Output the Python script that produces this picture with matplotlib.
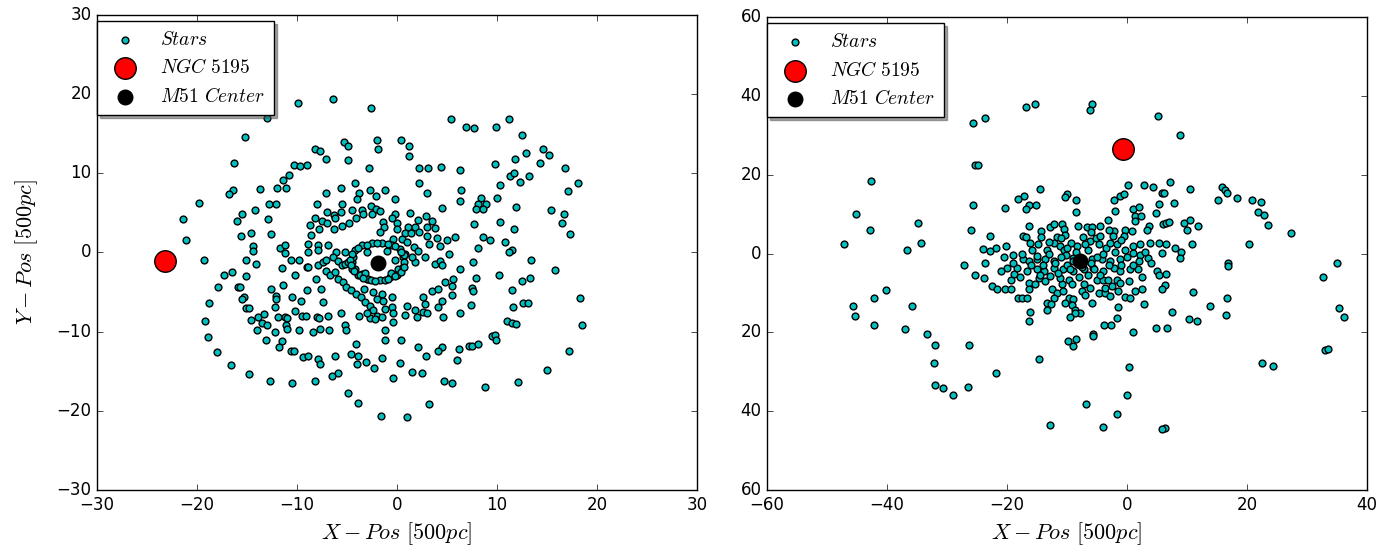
import numpy as np
import matplotlib
matplotlib.use("Agg")
import matplotlib.pyplot as plt
from matplotlib.ticker import FuncFormatter

# star positions [500 pc]
left_stars = np.array([
    # outer left
    (-19.3, -0.9), (-15.1, -0.9), (-14.1, -1.4), (-17.3, -2.8), (-16.5, -2.5), (-15.1, -3.0),
    (-17.9, -4.4), (-15.9, -4.3), (-15.7, -4.4), (-12.6, -4.6), (-11.4, -4.1), (-11.5, -2.0),
    (-10.6, -0.9), (-9.8, -0.9), (-10.2, -2.8), (-18.8, -6.4), (-15.3, -5.6), (-15.5, -5.9),
    (-12.1, -5.5), (-12.1, -5.9), (-10.5, -5.6), (-9.6, -6.1), (-12.2, -6.9), (-15.1, -7.0),
    (-14.8, -7.0), (-19.2, -8.6), (-14.6, -8.5), (-13.9, -8.1), (-13.3, -7.8), (-13.5, -8.9),
    (-13.0, -9.1), (-11.9, -8.1), (-11.2, -8.2), (-11.0, -8.3), (-11.1, -9.1), (-11.0, -9.7),
    (-10.2, -7.4), (-9.5, -8.0), (-14.0, -9.8), (-12.2, -10.1), (-9.8, -9.8), (-18.9, -10.7),
    (-13.1, -11.0), (-11.5, -11.2), (-11.8, -11.9), (-10.6, -12.4), (-10.3, -12.5), (-9.4, -13.2),
    (-18.0, -12.6), (-16.6, -14.2), (-14.8, -15.4), (-12.7, -16.2), (-10.5, -16.5),
    (-9.9, 18.9), (-13.0, 17.0), (-15.2, 14.6), (-16.3, 11.3), (-10.3, 11.1), (-9.7, 10.9),
    (-10.8, 9.8), (-11.4, 9.2), (-12.0, 8.2), (-11.1, 8.2), (-13.7, 8.0), (-16.4, 7.9),
    (-16.8, 7.4), (-19.8, 6.3), (-12.8, 6.1), (-12.1, 6.1), (-15.5, 4.9), (-16.0, 4.0),
    (-14.2, 5.3), (-12.9, 4.2), (-21.4, 4.2), (-21.1, 1.6), (-15.6, 2.1), (-14.6, 2.4),
    (-12.6, 2.3), (-14.4, 0.8), (-14.4, 0.2), (-11.7, 0.5), (-11.2, 1.0), (-11.2, -0.1),
    # upper middle
    (-6.4, 19.4), (-2.6, 18.2), (5.4, 16.8), (-8.2, 13.1), (-7.7, 12.8), (-7.1, 11.8),
    (-9.0, 11.1), (-5.3, 13.9), (-4.9, 13.5), (-4.9, 11.7), (-2.0, 14.2), (-1.9, 13.0),
    (0.4, 14.2), (1.2, 13.5), (1.2, 12.2), (-2.8, 10.6), (2.2, 10.6), (3.1, 10.6),
    (4.4, 10.8), (6.3, 10.4), (2.2, 8.8), (3.0, 7.5), (6.4, 7.9), (6.3, 6.5), (4.5, 5.6),
    (-4.2, 8.8), (-5.6, 8.2), (-7.1, 7.5), (-3.8, 7.5), (-4.0, 6.8), (-2.7, 7.9),
    (-2.1, 7.1), (-1.2, 7.9), (-0.2, 6.7), (-8.0, 6.1), (-5.5, 6.1), (-7.0, 5.1),
    (-6.3, 4.7), (-5.6, 5.1), (-4.5, 5.4), (-3.5, 5.4), (-2.6, 5.9), (-2.1, 5.5),
    (-1.7, 5.2), (-3.4, 4.8), (-2.5, 4.8), (-0.2, 4.9), (1.3, 5.0), (2.9, 4.6),
    (-8.2, 4.3), (-7.5, 4.0), (-7.0, 3.7), (-6.2, 4.3), (-5.5, 3.4), (-4.8, 3.7),
    (-4.1, 4.3), (-8.7, 3.5), (-7.8, 3.0), (-8.6, 2.2), (-6.3, 3.0), (-1.4, 3.9),
    (0.0, 3.7), (-0.5, 4.3), (-1.3, 3.2), (-1.7, 2.6), (0.0, 2.9), (1.1, 3.2),
    (1.8, 3.2), (2.1, 4.1), (3.5, 4.0), (3.8, 3.1), (3.0, 3.2), (0.8, 2.4),
    (1.4, 2.4), (2.2, 2.6), (-0.4, 1.7), (0.5, 1.7), (1.0, 1.3), (3.0, 2.1),
    (4.0, 1.8), (5.0, 1.6), (5.8, 1.9), (3.2, 1.1), (4.3, 0.8), (-7.9, 1.0),
    (-6.9, 0.9), (-7.9, 0.3), (-6.1, 0.0), (-5.2, 0.0), (-8.9, 1.1), (-8.9, 0.1),
    (1.7, 0.7), (2.1, 0.2), (5.2, -0.2),
    # upper right
    (11.2, 16.8), (9.9, 15.9), (6.9, 15.8), (7.7, 15.7), (12.5, 14.8), (14.6, 13.1),
    (15.2, 12.3), (12.9, 12.5), (11.8, 11.8), (14.3, 11.3), (9.8, 11.2), (16.8, 10.7),
    (11.3, 9.6), (11.7, 10.0), (13.2, 9.7), (12.3, 8.9), (18.1, 8.8), (17.1, 7.7),
    (10.3, 8.5), (10.0, 6.9), (8.4, 6.9), (8.1, 6.1), (8.9, 6.1), (7.9, 5.5),
    (8.6, 5.5), (11.9, 5.8), (15.4, 5.3), (16.7, 4.9), (16.5, 3.7), (17.3, 2.3),
    (7.7, 3.6), (10.3, 3.9), (11.7, 2.9), (8.6, 1.9), (9.3, 1.6), (10.8, 1.3),
    (11.5, 0.3), (11.2, 0.0), (8.1, 0.5),
    # lower right
    (13.4, -0.9), (7.6, -1.2), (15.8, -2.2), (10.2, -2.9), (7.9, -3.2), (12.5, -3.6),
    (13.3, -3.2), (7.5, -4.5), (7.6, -4.9), (11.5, -4.8), (18.3, -5.7), (7.4, -6.6),
    (11.6, -6.9), (12.6, -6.4), (13.1, -6.4), (11.0, -8.7), (11.5, -8.9), (11.9, -9.0),
    (18.5, -9.2), (9.5, -10.5), (9.8, -10.4), (9.9, -11.0), (7.2, -11.8), (7.5, -11.8),
    (8.1, -11.5), (17.2, -12.4), (15.0, -14.8), (12.1, -16.4), (8.8, -17.0),
    # lower middle
    (-9.0, -1.9), (-8.1, -3.4), (-7.6, -4.6), (-9.0, -4.8), (-7.4, -6.2), (-9.1, -8.0),
    (-8.0, -8.1), (-7.8, -8.3), (-6.9, -8.0), (-5.6, -7.7), (-3.8, -8.0), (-8.4, -10.1),
    (-7.7, -9.7), (-6.8, -9.8), (-5.2, -9.1), (-5.1, -9.8), (-4.1, -11.5), (-1.2, -9.8),
    (-1.2, -11.1), (0.4, -11.1), (2.1, -12.0), (4.5, -12.0), (4.1, -12.4), (6.2, -12.2),
    (2.9, -13.1), (6.0, -13.6), (-8.9, -13.1), (-7.9, -13.5), (-7.7, -14.1), (-6.2, -13.1),
    (-4.6, -12.8), (-3.9, -13.1), (-4.0, -14.1), (-3.1, -13.8), (-1.5, -13.3), (-2.3, -14.6),
    (0.3, -14.0), (1.5, -15.1), (2.5, -15.2), (-5.9, -15.2), (-6.5, -15.6), (-8.2, -16.2),
    (-0.4, -15.9), (4.7, -16.2), (5.5, -16.5), (-4.9, -17.8), (-3.9, -19.0), (3.2, -19.1),
    (-1.6, -20.6), (1.0, -20.8),
    # spiral arms near the centre
    (-8.9, -1.85), (-7.9, -1.56), (-7.4, -1.2), (-7.05, -0.9), (-6.4, -0.6), (-5.9, -1.1),
    (-5.5, -1.6), (-7.05, -2.3), (-6.7, -2.9), (-6.2, -2.5), (-5.9, -3.3), (-5.4, -3.75),
    (-5.05, -4.4), (-4.55, -4.8), (-4.05, -5.2), (-3.55, -5.6), (-3.2, -6.3), (-2.7, -6.7),
    (-2.4, -7.3), (-2.0, -8.0), (-2.7, -8.3), (-3.0, -7.7), (-5.2, -1.4), (-4.5, -1.2),
    (-4.2, -2.1), (-3.5, -2.7), (-3.0, -3.3), (-3.3, -4.6), (-2.4, -5.0), (-2.0, -5.85),
    (-1.5, -5.2), (-1.4, -6.1), (-0.5, -5.6), (-0.5, -6.9), (-0.4, -7.7), (-0.4, -8.8),
    (-1.2, -7.1), (-1.5, -8.2), (-2.2, -8.4), (0.8, -7.95), (1.0, -6.8), (1.8, -7.3),
    (2.0, -8.2), (2.6, -7.5), (2.8, -6.5), (3.0, -7.7), (2.6, -5.6), (3.5, -4.9),
    (4.1, -4.6), (4.5, -6.1), (4.1, -6.9), (4.6, -8.2), (5.5, -5.4), (4.8, -3.75),
    (5.5, -4.2), (5.65, -3.3), (6.3, -2.1), (6.3, -7.7), (3.8, -1.4), (4.3, -1.1),
    (4.5, -1.6), (2.8, -0.6), (1.8, -1.2), (1.5, -0.6),
    # tight ring round the centre
    (-0.2, -1.0), (0.1, -2.1), (-0.7, -3.1), (-1.7, -3.5), (-2.9, -3.4), (-3.9, -2.9),
    (-4.5, -2.1), (-4.9, -1.2), (-4.2, 0.26), (-3.5, 0.89), (-2.5, 1.2), (-1.5, 1.2),
    (-0.5, 0.97), (0.3, 0.47), (0.8, -0.16), (0.6, -0.6), (-4.4, -0.6), (-3.7, -2.9),
    (-2.6, -3.5), (-1.2, -3.5), (0.0, -2.9), (0.6, -1.8), (-1.0, 0.2), (-3.0, 0.1),
    (-3.2, -2.6), (-0.6, -2.6),
    (0.75, -1.2), (0.7, -0.3), (0.4, 0.1), (-0.2, 0.8), (-0.9, 1.1), (-2.0, 1.25),
    (-3.0, 1.0), (-3.9, 0.5), (-4.5, -0.2), (-4.7, -0.9), (-4.6, -1.6), (-4.3, -2.4),
    (-3.4, -3.2), (-2.2, -3.6), (-0.9, -3.4), (-0.2, -3.0), (0.4, -2.5), (0.7, -1.9),
])

right_stars = np.array([
    (-25.6, 33.0), (-25.3, 22.4), (-25.7, 12.4), (-26.0, 6.1), (-42.6, 18.5), (-45.2, 10.1),
    (-42.9, 6.1), (-47.2, 2.5), (-34.8, 7.8), (-34.4, 2.6), (-36.6, 0.85),
    (-27.2, -3.0), (-25.4, -5.5), (-40.2, -9.2), (-42.2, -11.2), (-45.7, -13.2), (-45.3, -15.8),
    (-35.9, -13.2), (-42.1, -18.2), (-37.0, -19.2), (-33.3, -20.5), (-32.0, -23.3), (-26.3, -23.3),
    (-32.2, -27.8), (-32.0, -33.3), (-30.7, -34.1), (-29.0, -35.9), (-26.5, -33.8),
    (-16.9, 37.3), (-15.4, 38.0), (-23.7, 34.5), (-5.8, 38.0), (-6.1, 36.5), (5.2, 35.0),
    (-24.9, 22.5), (-14.5, 16.4), (-10.0, 15.2), (-10.3, 14.3), (-8.4, 13.5), (-17.2, 14.5),
    (-18.1, 13.9), (-16.3, 12.4), (-16.8, 11.4), (-15.1, 12.2), (-20.4, 11.6), (-8.5, 10.6),
    (0.2, 17.3), (2.8, 17.3), (4.4, 17.0), (5.9, 15.3), (-2.2, 13.7), (-1.2, 14.7),
    (-0.4, 15.2), (5.4, 12.6), (-2.0, 10.9), (1.1, 11.4), (2.1, 11.8), (1.4, 9.4),
    (2.3, 9.6), (4.9, 10.3), (-3.1, 8.6), (1.3, 8.2), (3.7, 7.1), (3.4, 6.1),
    (6.1, 7.6), (-16.3, 6.9), (-12.9, 6.7), (-12.2, 7.6), (-10.8, 7.5), (-10.4, 6.2),
    (-8.1, 7.1), (-6.7, 6.7), (-5.8, 6.7), (-4.5, 7.1), (-22.9, 4.4), (-17.4, 4.4),
    (-16.9, 4.1), (-14.4, 5.6), (-14.3, 4.1), (-11.7, 4.1), (-10.3, 4.8), (-2.2, 5.6),
    (-2.3, 4.4), (-0.3, 6.1), (0.8, 5.8), (-0.4, 4.4), (-24.0, 1.1), (-22.8, 0.6),
    (-21.8, 1.3), (-20.2, 2.0), (-19.0, -0.3), (-16.2, 2.7), (-15.8, 1.0), (-14.9, 2.5),
    (-13.4, 0.8), (-12.2, 2.7), (-11.1, 1.8), (-10.4, 0.8), (-9.3, 2.7), (-8.3, 1.8),
    (-7.3, 4.1), (-6.1, 3.1), (-5.2, 3.9), (-4.6, 2.4), (-3.4, 1.4), (-2.8, 2.7),
    (-1.7, 2.3), (-0.3, 1.0), (1.1, 1.8), (2.2, 2.3), (3.9, 2.7), (5.3, 2.7),
    (5.8, 0.2), (3.6, -1.1), (2.2, -0.3), (1.1, 0.2), (-17.4, -1.5), (-16.4, -1.9),
    (-15.0, -1.5), (-13.6, -1.5), (-12.2, -1.9), (-23.6, -2.4), (-5.8, -1.5), (-4.2, -1.5),
    (-2.8, -1.9), (-1.1, -1.5), (-10.1, -0.3), (-8.9, -1.1),
    (8.9, 30.2), (7.2, 18.1), (6.2, 15.4), (7.8, 12.8), (10.6, 16.4), (15.8, 17.0),
    (16.4, 16.2), (16.7, 15.4), (15.2, 13.7), (18.3, 14.1), (20.8, 13.7), (22.4, 13.1),
    (21.8, 10.5), (22.9, 9.9), (23.6, 7.3), (27.4, 5.1), (6.6, 7.8), (7.1, 8.1),
    (9.6, 7.8), (10.6, 8.6), (10.1, 6.1), (11.9, 6.9), (6.6, 2.4), (8.0, 1.3),
    (9.1, 0.3), (8.8, -1.2), (10.9, 2.4), (20.3, 2.4), (16.9, -2.5), (35.1, -2.5),
    (16.8, -3.2), (32.7, -6.0), (6.6, -5.1), (6.4, -8.1), (11.1, -9.7), (16.7, -11.2),
    (13.9, -13.2), (7.6, -14.8), (10.3, -16.7), (11.7, -17.0), (16.5, -15.7), (6.7, -19.0),
    (35.3, -13.8), (36.2, -16.0), (33.0, -24.5), (33.5, -24.3), (22.6, -27.8), (24.4, -28.5),
    (6.3, -44.3),
    (-23.9, -6.3), (-22.5, -8.3), (-21.6, -9.1), (-20.3, -8.9), (-19.3, -8.9), (-19.4, -6.8),
    (-18.9, -5.3), (-17.8, -6.0), (-16.4, -7.4), (-16.4, -9.1), (-18.1, -11.2), (-17.5, -11.4),
    (-16.7, -11.2), (-16.1, -14.8), (-16.3, -17.0), (-15.3, -7.8), (-14.7, -6.2), (-13.6, -7.0),
    (-12.8, -5.7), (-12.5, -9.1), (-11.7, -10.0), (-12.1, -11.2), (-13.3, -12.5), (-12.7, -12.9),
    (-13.3, -14.2), (-10.8, -7.8), (-10.6, -9.4), (-11.1, -6.2), (-9.7, -6.6), (-9.2, -7.8),
    (-9.7, -11.2), (-10.3, -12.5), (-8.9, -11.6), (-9.1, -13.1), (-8.6, -14.2), (-7.8, -15.0),
    (-8.6, -15.2), (-9.4, -16.1), (-7.2, -7.8), (-7.5, -9.5), (-6.9, -10.4), (-6.1, -8.7),
    (-5.8, -12.5), (-5.0, -6.6), (-3.9, -6.6), (-3.1, -6.6), (-4.7, -10.0), (-3.6, -10.0),
    (-2.8, -10.8), (-3.6, -8.7), (-2.5, -8.3), (-1.7, -6.6), (-1.1, -7.4), (-1.4, -9.5),
    (-0.3, -11.0), (0.6, -11.2), (0.3, -7.0), (1.4, -9.4), (2.5, -8.9), (2.5, -6.0),
    (-1.4, -13.5), (-1.7, -16.3), (-3.8, -18.0), (-2.7, -18.2), (-5.6, -20.3), (-5.7, -21.0),
    (-9.8, -22.2), (-8.5, -21.7), (-9.0, -23.5), (2.9, -12.9), (1.1, -20.0), (4.8, -19.0),
    (5.8, -9.1), (5.0, -4.5), (5.3, -5.5), (-14.7, -26.8), (-21.8, -30.3), (0.3, -28.8),
    (0.0, -35.8), (-6.8, -38.1), (-1.6, -40.6), (-12.9, -43.5), (-3.9, -43.9), (5.9, -44.4),
    (-20.0, -3.6), (-18.3, -3.6), (-16.7, -4.5), (-15.0, -4.0), (-13.9, -4.5), (-12.2, -3.6),
    (-10.6, -4.0), (-8.9, -4.5), (-7.2, -4.0), (-5.6, -3.6), (-3.9, -4.5), (-2.2, -3.6),
    (-1.1, -4.5), (0.6, -4.0), (1.9, -4.0),
    # crowded core
    (-9.0, -2.0), (-8.0, -1.0), (-6.0, -2.5), (-5.0, -1.0), (-10.0, -3.0), (-11.0, -1.0),
    (-12.0, -2.5), (-13.0, 0.0), (-14.0, -3.0), (-8.5, 0.5), (-6.5, 0.8), (-4.0, 0.0),
    (-3.0, -3.0), (-2.0, 0.5), (-1.0, -2.8), (0.0, -1.0), (1.0, -3.0), (2.0, -2.0),
    (3.0, 0.5), (4.0, -2.5), (-9.5, -4.0), (-7.5, -3.5), (-5.5, -4.0), (-15.0, -0.5),
    (-16.0, -3.0), (-17.5, 0.0), (-19.0, -2.5), (-20.5, -1.0), (-21.0, -4.5), (-10.0, 1.5),
    (-7.0, 2.5), (-4.5, 4.5), (-11.0, 4.0), (-13.0, 3.0), (-6.0, 5.5), (-3.0, 6.0),
    (-1.0, 3.5), (-6.5, -5.5), (-4.5, -5.5), (-8.0, -6.0), (-11.5, -5.0), (-14.5, -5.5),
])

ngc_left = (-23.2, -1.1)
center_left = (-1.9, -1.3)
ngc_right = (-0.6, 26.6)
center_right = (-7.8, -1.9)

plt.style.use("classic")
plt.rcParams["mathtext.fontset"] = "cm"
plt.rcParams["font.family"] = ["DejaVu Sans"]

fig = plt.figure(figsize=(13.95, 5.5), dpi=100, facecolor="white")
ax1 = fig.add_axes([0.0695, 0.109, 0.430, 0.864])
ax2 = fig.add_axes([0.5498, 0.109, 0.430, 0.860])

panels = [
    (ax1, left_stars, ngc_left, center_left, (-30, 30), (-30, 30), 10, 10),
    (ax2, right_stars, ngc_right, center_right, (-60, 40), (-60, 60), 20, 20),
]

for ax, stars, ngc, cen, xlim, ylim, xstep, ystep in panels:
    ax.scatter(stars[:, 0], stars[:, 1], s=24, c="c", edgecolors="k", linewidths=1,
               label=r"$Stars$", zorder=2)
    ax.scatter([ngc[0]], [ngc[1]], s=240, c="r", edgecolors="k", linewidths=1,
               label=r"$NGC\ 5195$", zorder=3)
    ax.scatter([cen[0]], [cen[1]], s=110, c="k", edgecolors="k", linewidths=1,
               label=r"$M51\ Center$", zorder=3)
    ax.set_xlim(*xlim)
    ax.set_ylim(*ylim)
    ax.set_xticks(np.arange(xlim[0], xlim[1] + 1, xstep))
    ax.set_yticks(np.arange(ylim[0], ylim[1] + 1, ystep))
    ax.set_xlabel(r"$X-Pos\ [500pc]$", fontsize=16)
    ax.tick_params(labelsize=12)
    ax.legend(loc="upper left", bbox_to_anchor=(0.0, 0.987), scatterpoints=1, fontsize=14,
              shadow=True, borderaxespad=0.0, handletextpad=0.8, borderpad=0.45,
              labelspacing=0.5)

ax1.set_ylabel(r"$Y-Pos\ [500pc]$", fontsize=16, labelpad=12)
# the right panel shows its y tick values without signs
ax2.yaxis.set_major_formatter(FuncFormatter(lambda v, p: f"{abs(int(v))}"))

fig.savefig("out.png", dpi=100, facecolor="white")
